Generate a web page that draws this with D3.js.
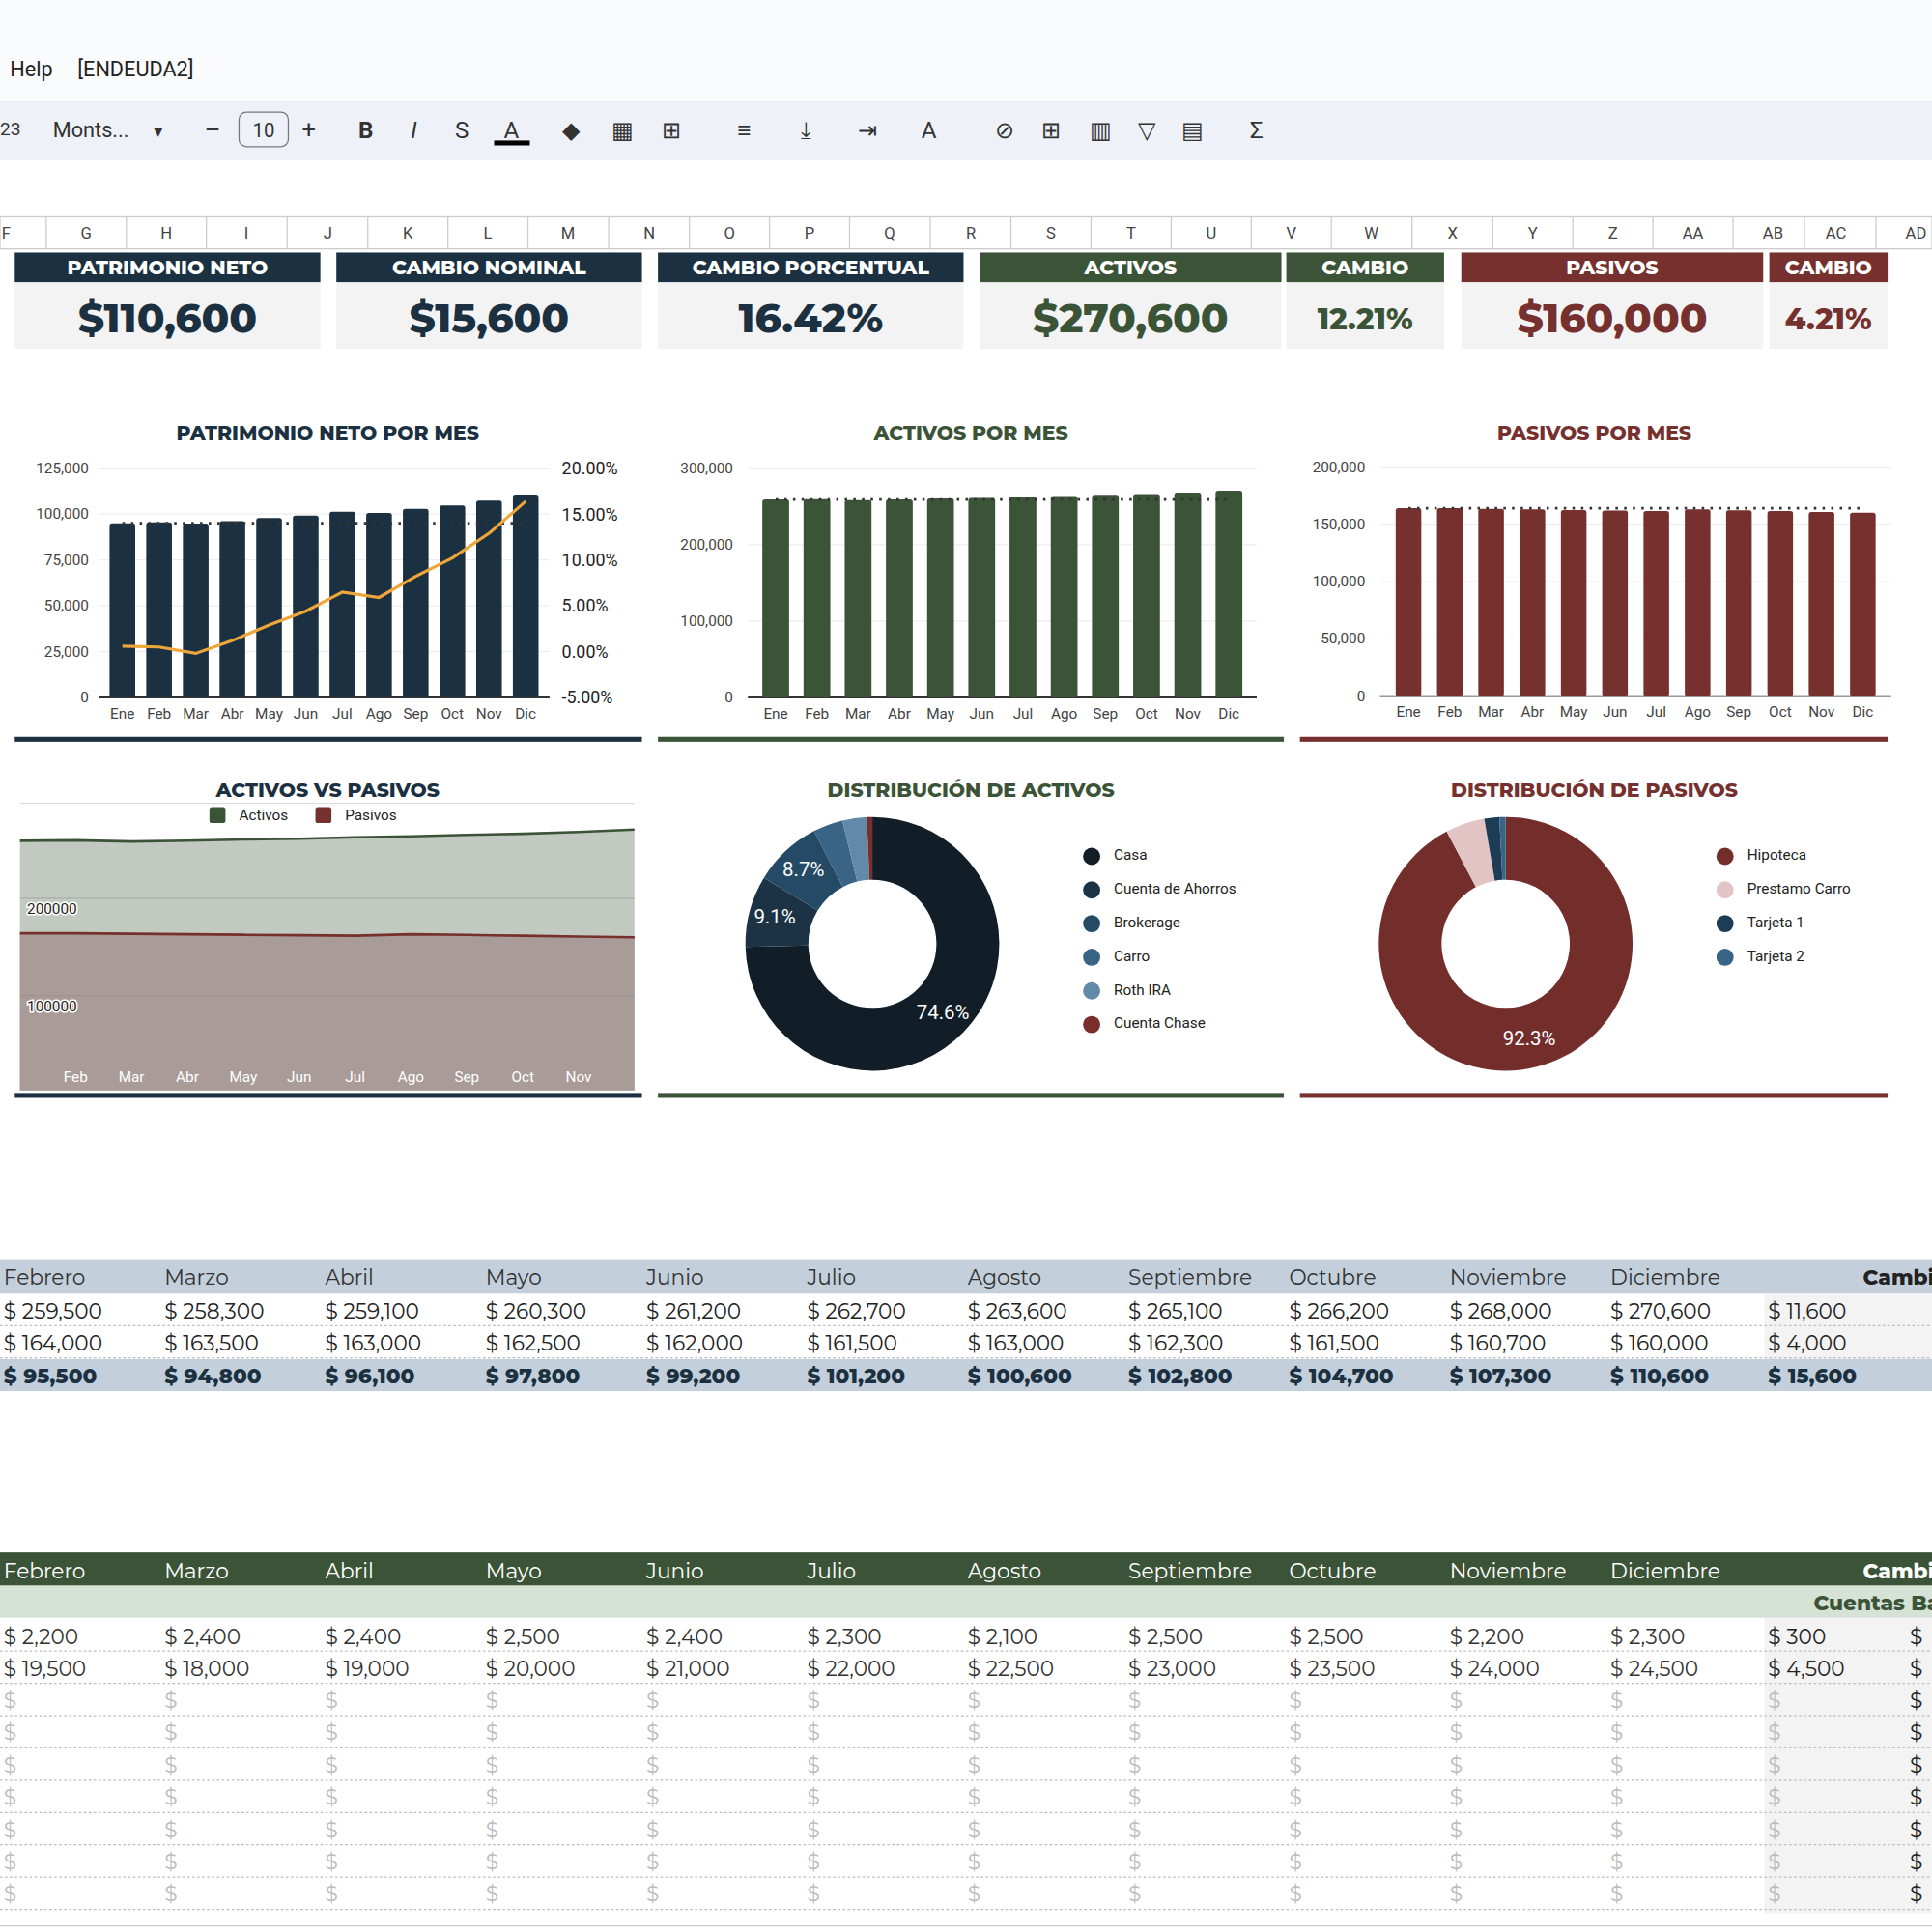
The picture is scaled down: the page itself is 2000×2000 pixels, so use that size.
<!DOCTYPE html>
<html><head><meta charset="utf-8">
<script src="https://cdn.jsdelivr.net/npm/d3@7"></script>
<style>body{margin:0;background:#fff}svg{display:block}</style>
</head><body><div id="svg"></div>
<script>
// data
const meses = ['Ene','Feb','Mar','Abr','May','Jun','Jul','Ago','Sep','Oct','Nov','Dic']
const mesesLargos = ['Febrero','Marzo','Abril','Mayo','Junio','Julio','Agosto','Septiembre','Octubre','Noviembre','Diciembre']
const patrimonio = [95000,95500,94800,96100,97800,99200,101200,100600,102800,104700,107300,110600]
const cambioPct = [0.6,0.5,-0.2,1.2,2.9,4.4,6.5,5.9,8.2,10.2,12.9,16.4]
const activos = [259000,259500,258300,259100,260300,261200,262700,263600,265100,266200,268000,270600]
const pasivos = [164000,164000,163500,163000,162500,162000,161500,163000,162300,161500,160700,160000]
const distActivos = [['Casa',74.6],['Cuenta de Ahorros',9.1],['Brokerage',8.7],['Carro',3.8],['Roth IRA',3.1],['Cuenta Chase',0.7]]
const colActivos = ['#111d27','#1b3345','#244a66','#3a6485','#6189a8','#7a2e2b']
const distPasivos = [['Hipoteca',92.3],['Prestamo Carro',5.0],['Tarjeta 1',1.9],['Tarjeta 2',0.8]]
const colPasivos = ['#732e2c','#e3c4c4','#1d3d57','#3a6485']
const kpis = [
  ['PATRIMONIO NETO','$110,600',12,260,'#1b3040','#1b3040',30],
  ['CAMBIO NOMINAL','$15,600',273,521,'#1b3040','#1b3040',30],
  ['CAMBIO PORCENTUAL','16.42%',534,782,'#1b3040','#1b3040',30],
  ['ACTIVOS','$270,600',795,1040,'#3b5337','#3b5337',30],
  ['CAMBIO','12.21%',1044,1172,'#3b5337','#3b5337',22],
  ['PASIVOS','$160,000',1186,1431,'#76302d','#76302d',30],
  ['CAMBIO','4.21%',1436,1532,'#76302d','#76302d',22]]
const colLetters = [['F',5],['G',70],['H',135],['I',200],['J',266],['K',331],['L',396],['M',461],['N',527],['O',592],['P',657],['Q',722],['R',788],['S',853],['T',918],['U',983],['V',1048],['W',1113],['X',1179],['Y',1244],['Z',1309],['AA',1374],['AB',1439],['AC',1490],['AD',1555]]
const cuentas1 = [2200,2400,2400,2500,2400,2300,2100,2500,2500,2200,2300]
const cuentas2 = [19500,18000,19000,20000,21000,22000,22500,23000,23500,24000,24500]

const F = 'Montserrat, Lato, "Open Sans", sans-serif'
const R = 'Roboto, "Liberation Sans", sans-serif'
const navy = '#1b3040', green = '#3b5337', red = '#76302d'
const fmt = d3.format(',')

const svg = d3.select('#svg').append('svg')
  .attr('width', 2000).attr('height', 2000).attr('viewBox', '0 0 1568 1568')

// top bars
svg.append('rect').attr('width', 1568).attr('height', 80).attr('fill', '#f9fbfd')
svg.append('text').attr('x', 8).attr('y', 62).attr('font-family', R).attr('font-size', 17).attr('fill', '#222').text('Help')
svg.append('text').attr('x', 63).attr('y', 62).attr('font-family', R).attr('font-size', 17).attr('fill', '#222').text('[ENDEUDA2]')
svg.append('rect').attr('y', 82).attr('width', 1568).attr('height', 48).attr('fill', '#eef2f8')
const tb = svg.append('g').attr('font-family', R).attr('fill', '#333')
tb.append('text').attr('x', 0).attr('y', 110).attr('font-size', 15).text('23')
tb.append('text').attr('x', 43).attr('y', 111).attr('font-size', 17).text('Monts...')
tb.append('text').attr('x', 125).attr('y', 111).attr('font-size', 15).text('▾')
tb.append('text').attr('x', 166).attr('y', 112).attr('font-size', 20).text('–')
tb.append('rect').attr('x', 194).attr('y', 91).attr('width', 40).attr('height', 28).attr('rx', 6).attr('fill', 'none').attr('stroke', '#777')
tb.append('text').attr('x', 214).attr('y', 111).attr('font-size', 16).attr('text-anchor', 'middle').text('10')
tb.append('text').attr('x', 245).attr('y', 112).attr('font-size', 20).text('+')
const icons = [['B',297],['I',336],['S',375],['A',415],['◆',463],['▦',505],['⊞',545],['≡',604],['⤓',654],['⇥',704],['A',754],['⊘',815],['⊞',853],['▥',893],['▽',931],['▤',968],['Σ',1020]]
icons.forEach(([t, x]) => tb.append('text').attr('x', x).attr('y', 112).attr('font-size', 19).attr('text-anchor', 'middle')
  .attr('font-weight', t === 'B' ? 'bold' : 'normal').attr('font-style', t === 'I' ? 'italic' : 'normal').text(t))
tb.append('rect').attr('x', 401).attr('y', 114).attr('width', 29).attr('height', 4).attr('fill', '#000')

// column header row
svg.append('rect').attr('y', 176).attr('width', 1568).attr('height', 26).attr('fill', '#fff').attr('stroke', '#ccc')
colLetters.forEach(([l, x], i) => {
  svg.append('text').attr('x', x).attr('y', 194).attr('text-anchor', 'middle').attr('font-family', R).attr('font-size', 13).attr('fill', '#444').text(l)
  if (i < colLetters.length - 1) {
    const nx = (x + colLetters[i + 1][1]) / 2
    svg.append('line').attr('x1', nx).attr('x2', nx).attr('y1', 176).attr('y2', 202).attr('stroke', '#ccc')
  }
})

// KPI cards
kpis.forEach(([h, v, x0, x1, hc, tc, fs]) => {
  svg.append('rect').attr('x', x0).attr('y', 205).attr('width', x1 - x0).attr('height', 78).attr('fill', '#f3f3f3')
  svg.append('rect').attr('x', x0).attr('y', 205).attr('width', x1 - x0).attr('height', 24).attr('fill', hc)
  svg.append('text').attr('x', (x0 + x1) / 2).attr('y', 223).attr('text-anchor', 'middle').attr('font-family', F)
    .attr('font-weight', 800).attr('font-size', 16).attr('fill', '#fff').text(h)
  svg.append('text').attr('x', (x0 + x1) / 2).attr('y', fs > 25 ? 270 : 267).attr('text-anchor', 'middle').attr('font-family', F)
    .attr('font-weight', 800).attr('font-size', fs * 1.1).attr('fill', tc).text(v)
})

function title(x, y, t, c) {
  svg.append('text').attr('x', x).attr('y', y).attr('text-anchor', 'middle').attr('font-family', F)
    .attr('font-weight', 800).attr('font-size', 16).attr('fill', c).text(t)
}
function underline(x0, x1, y, c) {
  svg.append('rect').attr('x', x0).attr('y', y).attr('width', x1 - x0).attr('height', 4).attr('fill', c)
}

// bar chart helper
function barChart(x0, x1, yTop, yBot, max, step, data, color, base, leftX, pad) {
  const x = d3.scaleBand().domain(meses).range([x0, x1]).padding(pad)
  const y = d3.scaleLinear().domain([0, max]).range([yBot, yTop])
  const g = svg.append('g')
  g.selectAll('.grid').data(d3.range(0, max + 1, step)).join('line')
    .attr('x1', x0).attr('x2', x1).attr('y1', d => y(d)).attr('y2', d => y(d))
    .attr('stroke', d => d === 0 ? '#333' : '#eee').attr('stroke-width', d => d === 0 ? 1.5 : 1)
  g.selectAll('.yl').data(d3.range(0, max + 1, step)).join('text')
    .attr('x', leftX).attr('y', d => y(d) + 4).attr('text-anchor', 'end').attr('font-family', R).attr('font-size', 12).attr('fill', '#444').text(d => fmt(d))
  g.selectAll('.bar').data(data).join('rect')
    .attr('x', (d, i) => x(meses[i])).attr('width', x.bandwidth())
    .attr('y', d => y(d)).attr('height', d => yBot - y(d)).attr('rx', 2).attr('fill', color)
  g.append('line').attr('x1', x(meses[0]) + x.bandwidth() / 2).attr('x2', x(meses[11]) + x.bandwidth() / 2)
    .attr('y1', y(base)).attr('y2', y(base)).attr('stroke', '#333').attr('stroke-width', 2).attr('stroke-dasharray', '2,5')
  g.selectAll('.xl').data(meses).join('text')
    .attr('x', d => x(d) + x.bandwidth() / 2).attr('y', yBot + 17).attr('text-anchor', 'middle')
    .attr('font-family', R).attr('font-size', 12).attr('fill', '#444').text(d => d)
  return { x, y }
}

// Patrimonio neto
title(266, 357, 'PATRIMONIO NETO POR MES', navy)
const p1 = barChart(80, 446, 380, 566, 125000, 25000, patrimonio, navy, patrimonio[0], 72, 0.3)
const yPct = d3.scaleLinear().domain([-5, 20]).range([566, 380])
d3.range(-5, 21, 5).forEach(v => svg.append('text').attr('x', 456).attr('y', yPct(v) + 5)
  .attr('font-family', R).attr('font-size', 14).attr('fill', '#222').text(v.toFixed(2) + '%'))
svg.append('path').datum(cambioPct).attr('fill', 'none').attr('stroke', '#eea63a').attr('stroke-width', 2.5)
  .attr('d', d3.line().x((d, i) => p1.x(meses[i]) + p1.x.bandwidth() / 2).y(d => yPct(d)))
underline(12, 521, 598, navy)

// Activos
title(788, 357, 'ACTIVOS POR MES', green)
barChart(607, 1020, 380, 566, 300000, 100000, activos, green, activos[0], 595, 0.35)
underline(534, 1042, 598, green)

// Pasivos
title(1294, 357, 'PASIVOS POR MES', red)
barChart(1120, 1535, 379, 565, 200000, 50000, pasivos, red, pasivos[0], 1108, 0.38)
underline(1055, 1532, 598, red)

// Activos vs Pasivos area
title(266, 647, 'ACTIVOS VS PASIVOS', navy)
svg.append('line').attr('x1', 16).attr('x2', 515).attr('y1', 652).attr('y2', 652).attr('stroke', '#ddd')
const ax = d3.scalePoint().domain(meses).range([16, 515])
const ay = d3.scaleLinear().domain([0, 100000]).range([887, 808])
svg.append('defs').append('clipPath').attr('id', 'ac').append('rect').attr('x', 16).attr('y', 652).attr('width', 499).attr('height', 233)
const ag = svg.append('g').attr('clip-path', 'url(#ac)')
const area = d3.area().x((d, i) => ax(meses[i])).y0(895).y1(d => ay(d))
const line = d3.line().x((d, i) => ax(meses[i])).y(d => ay(d))
ag.append('path').datum(activos).attr('d', area).attr('fill', '#c1c9c1')
ag.append('path').datum(pasivos).attr('d', area).attr('fill', '#a99b98')
;[100000, 200000].forEach(v => ag.append('line').attr('x1', 16).attr('x2', 515).attr('y1', ay(v)).attr('y2', ay(v)).attr('stroke', '#888').attr('stroke-opacity', 0.4))
ag.append('path').datum(activos).attr('d', line).attr('fill', 'none').attr('stroke', green).attr('stroke-width', 2)
ag.append('path').datum(pasivos).attr('d', line).attr('fill', 'none').attr('stroke', red).attr('stroke-width', 2)
;[100000, 200000].forEach(v => svg.append('text').attr('x', 22).attr('y', ay(v) + 13).attr('font-family', R).attr('font-size', 12)
  .attr('fill', '#222').attr('stroke', '#fff').attr('stroke-width', 2.5).attr('paint-order', 'stroke').text(v))
meses.slice(1, 11).forEach(m => svg.append('text').attr('x', ax(m)).attr('y', 878).attr('text-anchor', 'middle')
  .attr('font-family', R).attr('font-size', 12).attr('fill', '#fff').text(m))
;[['Activos', 170, green], ['Pasivos', 256, red]].forEach(([t, x, c]) => {
  svg.append('rect').attr('x', x).attr('y', 655).attr('width', 13).attr('height', 13).attr('rx', 2).attr('fill', c)
  svg.append('text').attr('x', x + 24).attr('y', 666).attr('font-family', R).attr('font-size', 12).attr('fill', '#222').text(t)
})
underline(12, 521, 887, navy)

// donuts
function donut(cx, cy, data, colors, lx, showMin) {
  const pie = d3.pie().sort(null).value(d => d[1])
  const arc = d3.arc().innerRadius(52).outerRadius(103)
  const g = svg.append('g').attr('transform', `translate(${cx},${cy})`)
  const arcs = pie(data)
  g.selectAll('path').data(arcs).join('path').attr('d', arc).attr('fill', (d, i) => colors[i])
  g.selectAll('text').data(arcs.filter(d => d.data[1] >= showMin)).join('text')
    .attr('transform', d => {
      const a = (d.startAngle + d.endAngle) / 2, r = d.data[1] > 50 ? 80 : 82
      return `translate(${Math.sin(a) * r},${-Math.cos(a) * r + 5})`
    })
    .attr('text-anchor', 'middle').attr('font-family', R).attr('font-size', 16).attr('fill', '#fff').text(d => d.data[1].toFixed(1) + '%')
  data.forEach((d, i) => {
    svg.append('circle').attr('cx', lx).attr('cy', 695 + i * 27.3).attr('r', 7).attr('fill', colors[i])
    svg.append('text').attr('x', lx + 18).attr('y', 698 + i * 27.3).attr('font-family', R).attr('font-size', 12).attr('fill', '#222').text(d[0])
  })
}
title(788, 647, 'DISTRIBUCIÓN DE ACTIVOS', green)
donut(708, 766, distActivos, colActivos, 886, 8)
underline(534, 1042, 887, green)
title(1294, 647, 'DISTRIBUCIÓN DE PASIVOS', red)
donut(1222, 766, distPasivos, colPasivos, 1400, 50)
underline(1055, 1532, 887, red)

// table 1
const colX = mesesLargos.map((d, i) => 3 + i * 130.4)
const txt = (x, y, t, o = {}) => svg.append('text').attr('x', x).attr('y', y).attr('font-family', F)
  .attr('font-size', 17).attr('font-weight', o.w || 400).attr('fill', o.c || '#222').text(t)
svg.append('rect').attr('y', 1022).attr('width', 1568).attr('height', 28).attr('fill', '#c3d0db')
mesesLargos.forEach((m, i) => txt(colX[i], 1043, m, { c: '#333' }))
txt(1512, 1043, 'Cambio', { w: 800 })
svg.append('rect').attr('x', 1432).attr('y', 1050).attr('width', 136).attr('height', 53).attr('fill', '#f3f3f3')
svg.append('rect').attr('y', 1103).attr('width', 1568).attr('height', 26).attr('fill', '#c3d0db')
;[1076, 1102].forEach(y => svg.append('line').attr('x1', 0).attr('x2', 1568).attr('y1', y).attr('y2', y).attr('stroke', '#bbb').attr('stroke-dasharray', '2,2'))
activos.slice(1).forEach((v, i) => txt(colX[i], 1070, '$ ' + fmt(v)))
pasivos.slice(1).forEach((v, i) => txt(colX[i], 1096, '$ ' + fmt(v)))
patrimonio.slice(1).forEach((v, i) => txt(colX[i], 1123, '$ ' + fmt(v), { w: 800, c: navy }))
txt(1435, 1070, '$ ' + fmt(activos[11] - activos[0]))
txt(1435, 1096, '$ ' + fmt(pasivos[0] - pasivos[11]))
txt(1435, 1123, '$ ' + fmt(patrimonio[11] - patrimonio[0]), { w: 800, c: navy })

// table 2
svg.append('rect').attr('y', 1260).attr('width', 1568).attr('height', 27).attr('fill', green)
mesesLargos.forEach((m, i) => txt(colX[i], 1281, m, { c: '#fff' }))
txt(1512, 1281, 'Cambio', { w: 800, c: '#fff' })
svg.append('rect').attr('y', 1287).attr('width', 1568).attr('height', 26).attr('fill', '#d5e2d5')
txt(1472, 1307, 'Cuentas Bancarias', { w: 800, c: green })
svg.append('rect').attr('x', 1432).attr('y', 1313).attr('width', 136).attr('height', 240).attr('fill', '#f3f3f3')
d3.range(10).forEach(r => {
  const y = 1340 + r * 26.2
  svg.append('line').attr('x1', 0).attr('x2', 1568).attr('y1', y).attr('y2', y).attr('stroke', '#bbb').attr('stroke-dasharray', '2,2')
})
cuentas1.forEach((v, i) => txt(colX[i], 1334, '$ ' + fmt(v), { c: '#333' }))
cuentas2.forEach((v, i) => txt(colX[i], 1360, '$ ' + fmt(v), { c: '#333' }))
txt(1435, 1334, '$ ' + fmt(300)); txt(1435, 1360, '$ ' + fmt(4500))
txt(1550, 1334, '$'); txt(1550, 1360, '$')
d3.range(7).forEach(r => {
  const y = 1386 + r * 26.2
  colX.concat([1435]).forEach(x => txt(x, y, '$', { c: '#bbb' }))
  txt(1550, y, '$')
})
svg.append('line').attr('x1', 0).attr('x2', 1568).attr('y1', 1563).attr('y2', 1563).attr('stroke', '#ccc')
</script></body></html>
